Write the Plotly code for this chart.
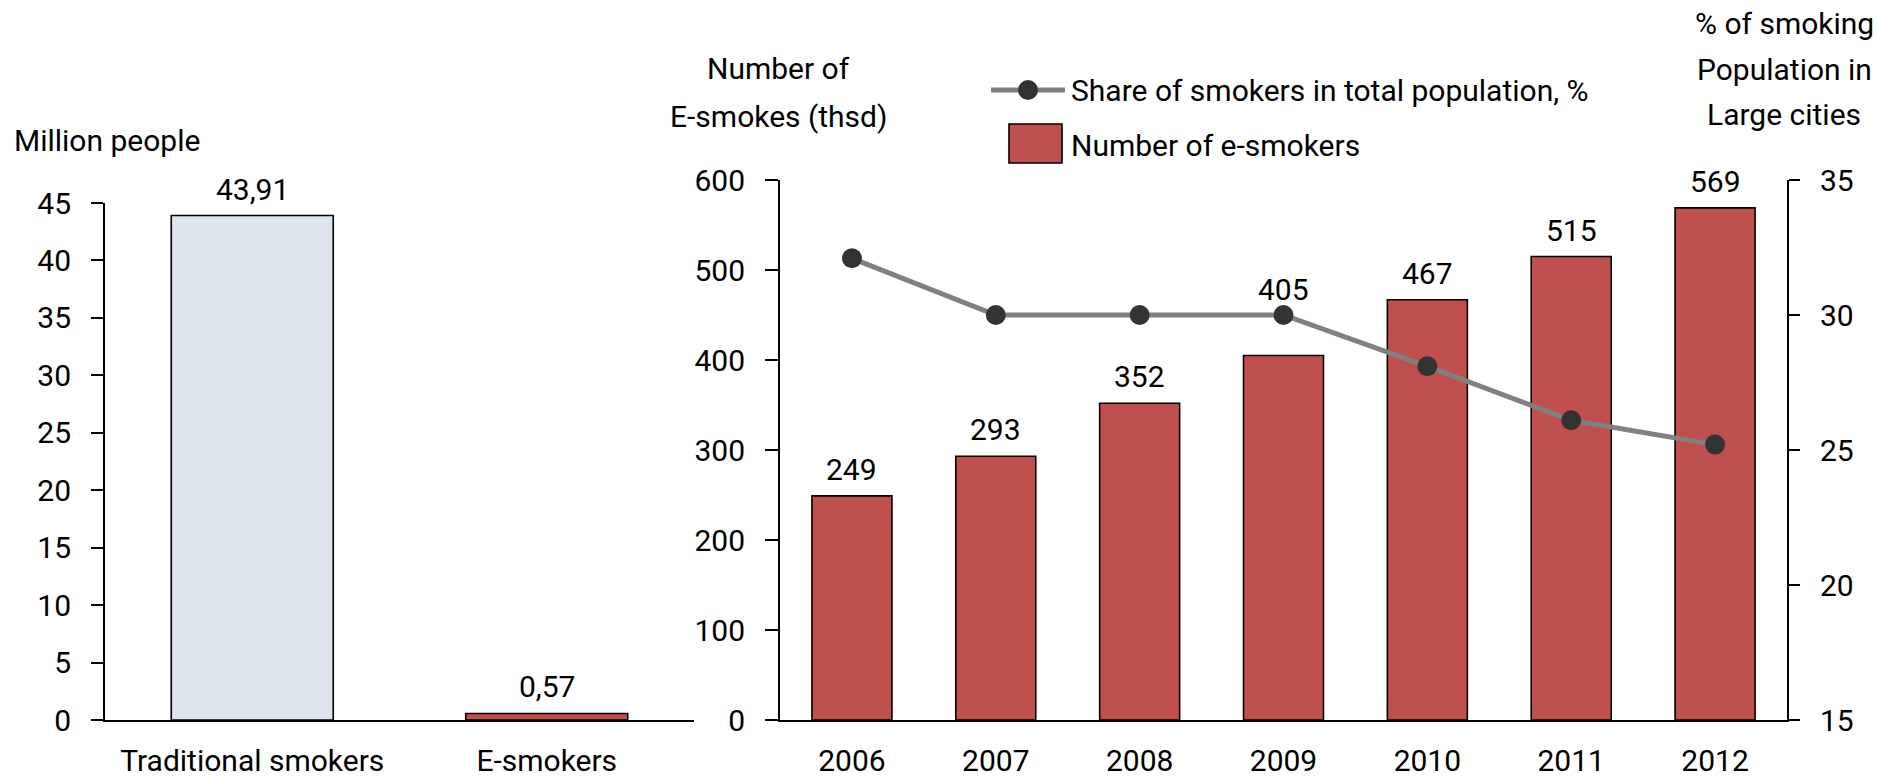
import plotly.graph_objects as go

# ---- data ----
left_categories = ["Traditional smokers", "E-smokers"]
left_values = [43.91, 0.57]
left_labels = ["43,91", "0,57"]
left_colors = ["#DDE4EE", "#C0504D"]

years = ["2006", "2007", "2008", "2009", "2010", "2011", "2012"]
esmokers = [249, 293, 352, 405, 467, 515, 569]
share = [32.1, 30.0, 30.0, 30.0, 28.1, 26.1, 25.2]

left_ticks = [0, 5, 10, 15, 20, 25, 30, 35, 40, 45]
right_ticks = [0, 100, 200, 300, 400, 500, 600]
share_ticks = [15, 20, 25, 30, 35]

left_title_lines = ["Number of", "E-smokes (thsd)"]
right_title_lines = ["% of smoking", "Population in", "Large cities"]

W, H = 1877, 779
FONT = "Roboto, Liberation Sans, sans-serif"
FS = 30

def px(x):
    return x / W

def py(y):
    return 1 - y / H

fig = go.Figure()

# left chart
fig.add_trace(go.Bar(
    x=left_categories, y=left_values, xaxis="x", yaxis="y",
    marker=dict(color=left_colors, line=dict(color="#000000", width=1.6)),
    width=0.55, showlegend=False, hoverinfo="skip"))

# right chart bars
fig.add_trace(go.Bar(
    x=years, y=esmokers, xaxis="x2", yaxis="y2",
    marker=dict(color="#C0504D", line=dict(color="#000000", width=1.6)),
    width=0.556, showlegend=False, hoverinfo="skip"))

# right chart line
fig.add_trace(go.Scatter(
    x=years, y=share, xaxis="x2", yaxis="y3", mode="lines+markers",
    line=dict(color="#808080", width=5),
    marker=dict(color="#333333", size=20),
    showlegend=False, hoverinfo="skip"))

annotations = []
for i, (v, t) in enumerate(zip(left_values, left_labels)):
    annotations.append(dict(x=i, y=v, xref="x", yref="y", text=t, showarrow=False,
                            yanchor="bottom", yshift=7, font=dict(size=FS)))
label_extra = [0, 0, 0, 40, 0, 0, 0]
for i, (v, e) in enumerate(zip(esmokers, label_extra)):
    annotations.append(dict(x=i, y=v, xref="x2", yref="y2", text=str(v), showarrow=False,
                            yanchor="bottom", yshift=7 + e, font=dict(size=FS)))

# titles
annotations.append(dict(x=px(12), y=py(140), xref="paper", yref="paper", text="Million people",
                        showarrow=False, xanchor="left", yanchor="middle", font=dict(size=FS)))
for line, yy in zip(left_title_lines, [68, 116]):
    annotations.append(dict(x=px(778), y=py(yy), xref="paper", yref="paper", text=line,
                            showarrow=False, xanchor="center", yanchor="middle", font=dict(size=FS)))
for line, yy in zip(right_title_lines, [24, 69, 115]):
    annotations.append(dict(x=px(1784), y=py(yy), xref="paper", yref="paper", text=line,
                            showarrow=False, xanchor="center", yanchor="middle", font=dict(size=FS)))

# custom legend
annotations.append(dict(x=px(1069), y=py(90), xref="paper", yref="paper",
                        text="Share of smokers in total population, %",
                        showarrow=False, xanchor="left", yanchor="middle", font=dict(size=FS)))
annotations.append(dict(x=px(1069), y=py(146), xref="paper", yref="paper",
                        text="Number of e-smokers",
                        showarrow=False, xanchor="left", yanchor="middle", font=dict(size=FS)))

shapes = [
    dict(type="line", xref="paper", yref="paper", x0=px(991), x1=px(1065), y0=py(90), y1=py(90),
         line=dict(color="#808080", width=5)),
    dict(type="circle", xref="paper", yref="paper", x0=px(1018), x1=px(1038), y0=py(80), y1=py(100),
         fillcolor="#333333", line=dict(color="#333333", width=0)),
    dict(type="rect", xref="paper", yref="paper", x0=px(1009), x1=px(1062), y0=py(124), y1=py(163),
         fillcolor="#C0504D", line=dict(color="#000000", width=1.6)),
]

axis_common = dict(showgrid=False, zeroline=False, showline=True, linecolor="#000000",
                   linewidth=2, tickfont=dict(size=FS, color="#000000"), automargin=False)

fig.update_layout(
    width=W, height=H, margin=dict(l=0, r=0, t=0, b=0, autoexpand=False),
    paper_bgcolor="white", plot_bgcolor="white",
    font=dict(family=FONT, size=FS, color="#000000"),
    xaxis=dict(domain=[px(105), px(694)], anchor="y", type="category", range=[-0.5, 1.5],
               ticks="", ticklabelstandoff=13, **axis_common),
    yaxis=dict(domain=[py(720), py(203)], anchor="x", range=[0, 45], tickvals=left_ticks,
               ticks="outside", ticklen=12, tickwidth=2, tickcolor="#000000",
               ticklabelstandoff=14, **axis_common),
    xaxis2=dict(domain=[px(780), px(1787)], anchor="y2", type="category", range=[-0.5, 6.5],
                ticks="", ticklabelstandoff=13, **axis_common),
    yaxis2=dict(domain=[py(720), py(180)], anchor="x2", range=[0, 600], tickvals=right_ticks,
                ticks="outside", ticklen=13, tickwidth=2, tickcolor="#000000",
                ticklabelstandoff=14, **axis_common),
    yaxis3=dict(overlaying="y2", anchor="x2", side="right", range=[15, 35], tickvals=share_ticks,
                ticks="outside", ticklen=11, tickwidth=2, tickcolor="#000000",
                ticklabelstandoff=14, **axis_common),
    annotations=annotations,
    shapes=shapes,
)

fig.write_html("out.html")
